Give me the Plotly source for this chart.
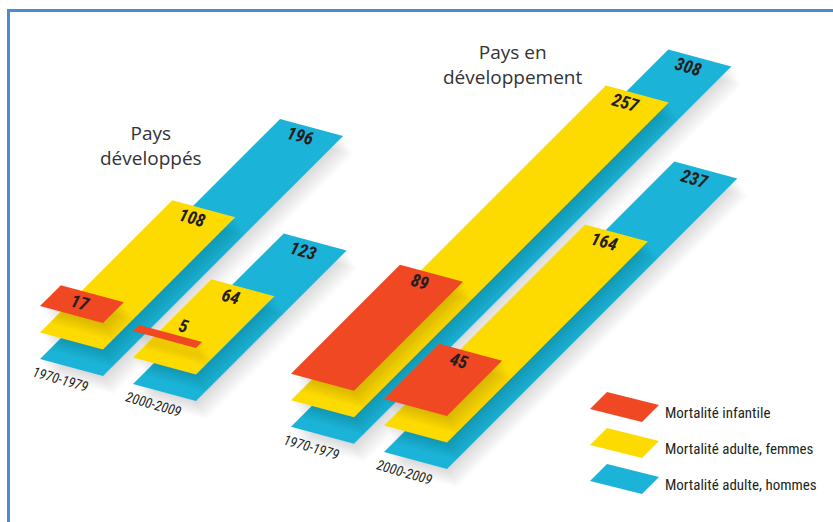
import plotly.graph_objects as go

# ---------------- data ----------------
regions = ["Pays développés", "Pays en développement"]
periods = ["1970-1979", "2000-2009", "1970-1979", "2000-2009"]
infant = [17, 5, 89, 45]          # Mortalité infantile
women = [108, 64, 257, 164]       # Mortalité adulte, femmes
men = [196, 123, 308, 237]        # Mortalité adulte, hommes
series_names = ["Mortalité adulte, hommes", "Mortalité adulte, femmes", "Mortalité infantile"]
series_values = [men, women, infant]

# ---------------- styling / projection ----------------
COLORS = ["#1bb4d8", "#fedb00", "#ef4823"]
TEXT = "#231f20"
K = 1.225                 # pixels per unit along the depth (value) axis
WX, WY = 63, 17           # bar width vector
LAYER = 26.5              # vertical lift between stacked layers
SLOTS = [0, 93, 251, 344] # group positions along width axis
X0, Y0 = 40, 359
SLOPE = 0.27
COND = "Roboto Condensed, sans-serif"

fig = go.Figure()


def origin(i, layer):
    s = SLOTS[i]
    return X0 + s, Y0 + SLOPE * s - layer * LAYER


def bar_poly(x0, y0, v, dx=0.0, dy=0.0):
    d = K * v
    xs = [x0, x0 + WX, x0 + WX + d, x0 + d, x0]
    ys = [y0, y0 + WY, y0 + WY - d, y0 - d, y0]
    return [x + dx for x in xs], [y + dy for y in ys]


def add_poly(xs, ys, color):
    fig.add_trace(go.Scatter(x=xs, y=ys, mode="lines", fill="toself",
                             fillcolor=color, line=dict(width=0),
                             hoverinfo="skip", showlegend=False))


annotations = []
for layer, vals in enumerate(series_values):
    # soft shadow cast by this layer
    for i, v in enumerate(vals):
        x0, y0 = origin(i, layer)
        for t in range(1, 10):
            xs, ys = bar_poly(x0, y0, v, dx=1.2 * t, dy=2.0 * t)
            add_poly(xs, ys, "rgba(0,0,0,0.014)")
    # the bars themselves
    for i, v in enumerate(vals):
        x0, y0 = origin(i, layer)
        xs, ys = bar_poly(x0, y0, v)
        add_poly(xs, ys, COLORS[layer])
        d = K * v
        if d < 15:
            lx, ly = x0 + d + 44, y0 - d + 1
        else:
            lx, ly = x0 + d + 20, y0 - d + 17
        annotations.append(dict(x=lx, y=ly, text=f"<b><i>{v}</i></b>", showarrow=False,
                                textangle=16, font=dict(family=COND, size=18, color=TEXT),
                                xanchor="center", yanchor="middle"))

# period labels
for i, p in enumerate(periods):
    x0, y0 = origin(i, 0)
    annotations.append(dict(x=x0 + 20, y=y0 + 20, text=f"<i>{p}</i>", showarrow=False,
                            textangle=16, font=dict(family=COND, size=14, color=TEXT),
                            xanchor="center", yanchor="middle"))

# region titles
annotations.append(dict(x=151, y=145, text="Pays<br>développés", showarrow=False,
                        font=dict(family="Open Sans", size=19, color="#333333"),
                        xanchor="center", yanchor="middle", align="center"))
annotations.append(dict(x=513, y=64, text="Pays en<br>développement", showarrow=False,
                        font=dict(family="Open Sans", size=19, color="#333333"),
                        xanchor="center", yanchor="middle", align="center"))

# legend (drawn as parallelogram swatches)
legend_order = [2, 1, 0]
for j, layer in enumerate(legend_order):
    tx, ty = 607, 392 + 36 * j
    xs = [tx, tx + 52, tx + 35, tx - 17, tx]
    ys = [ty, ty + 13, ty + 30, ty + 17, ty]
    add_poly(xs, ys, COLORS[layer])
    annotations.append(dict(x=663, y=ty + 21, text=series_names[layer], showarrow=False,
                            font=dict(family=COND, size=15, color=TEXT),
                            xanchor="left", yanchor="middle"))

shapes = [
    dict(type="line", x0=7, x1=833, y0=10.5, y1=10.5, line=dict(color="#4a8bd4", width=3)),
    dict(type="line", x0=8.5, x1=8.5, y0=9, y1=522, line=dict(color="#4a8bd4", width=3)),
]

fig.update_layout(
    width=833, height=522,
    margin=dict(l=0, r=0, t=0, b=0),
    paper_bgcolor="white", plot_bgcolor="white",
    xaxis=dict(range=[0, 833], visible=False, fixedrange=True),
    yaxis=dict(range=[522, 0], visible=False, fixedrange=True),
    showlegend=False,
    annotations=annotations,
    shapes=shapes,
)

fig.write_html("out.html", config={"displayModeBar": False},
               post_script="document.body.style.margin='0';document.body.style.overflow='hidden';")
